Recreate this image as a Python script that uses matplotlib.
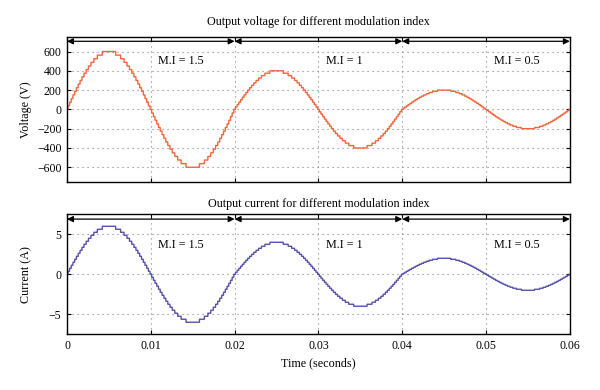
import numpy as np
import matplotlib
matplotlib.use("Agg")
import matplotlib.pyplot as plt

plt.rcParams["font.family"] = ["Liberation Serif", "DejaVu Serif"]
plt.rcParams["font.size"] = 8.5

# values
seg_edges = [0.0, 0.02, 0.04, 0.06]
mod_index = ["1.5", "1", "0.5"]
v_peak = [600, 400, 200]
i_peak = [6, 4, 2]
freq = 50.0
steps_per_quarter = 16

v_ticks = [-600, -400, -200, 0, 200, 400, 600]
i_ticks = [-5, 0, 5]
x_ticks = [0, 0.01, 0.02, 0.03, 0.04, 0.05, 0.06]
x_ticklabels = ["0", "0.01", "0.02", "0.03", "0.04", "0.05", "0.06"]

v_color = "#f2643a"
i_color = "#5550a8"


def staircase(peaks):
    t_all, y_all = [], []
    for k, peak in enumerate(peaks):
        t = np.linspace(seg_edges[k], seg_edges[k + 1], 4000, endpoint=(k == len(peaks) - 1))
        step = peak / steps_per_quarter
        y = np.round(peak * np.sin(2 * np.pi * freq * t) / step) * step
        t_all.append(t)
        y_all.append(y)
    return np.concatenate(t_all), np.concatenate(y_all)


fig = plt.figure(figsize=(6.0, 3.9), dpi=100)
ax1 = fig.add_axes([0.1117, 0.534, 0.838, 0.371])
ax2 = fig.add_axes([0.1117, 0.143, 0.838, 0.3075])

panels = [
    (ax1, v_peak, v_color, v_ticks, (-750, 750), 706, 500,
     "Output voltage for different modulation index", "Voltage (V)", 9),
    (ax2, i_peak, i_color, i_ticks, (-7.5, 7.5), 6.9, 3.6,
     "Output current for different modulation index", "Current (A)", 5),
]

for ax, peaks, color, yticks, ylim, arrow_y, text_y, title, ylabel, tpad in panels:
    t, y = staircase(peaks)
    ax.plot(t, y, color=color, lw=1.0)
    ax.set_xlim(0, 0.06)
    ax.set_ylim(*ylim)
    ax.set_yticks(yticks)
    ax.set_xticks(x_ticks)
    ax.grid(True, linestyle=(0, (1, 3.5)), color="0.5", lw=0.8)
    ax.tick_params(direction="in", top=True, right=True, length=3, pad=4, labelsize=8.5)
    for s in ax.spines.values():
        s.set_linewidth(1.0)
    ax.set_title(title, fontsize=8.7, pad=tpad)
    ax.set_ylabel(ylabel, fontsize=8.7)

    for k in range(len(peaks)):
        ax.annotate("", xy=(seg_edges[k], arrow_y), xytext=(seg_edges[k + 1], arrow_y),
                    arrowprops=dict(arrowstyle="<|-|>", color="black", lw=0.9,
                                    mutation_scale=9, shrinkA=0, shrinkB=0))
        ax.text(seg_edges[k] + 0.0109, text_y, "M.I = " + mod_index[k],
                ha="left", va="center", fontsize=8.7)

ax1.set_xticklabels([])
ax2.set_xticklabels(x_ticklabels)
ax2.set_xlabel("Time (seconds)", fontsize=8.7)
ax1.yaxis.set_label_coords(-0.07, 0.5)
ax2.yaxis.set_label_coords(-0.07, 0.5)

fig.savefig("out.png", dpi=100)
